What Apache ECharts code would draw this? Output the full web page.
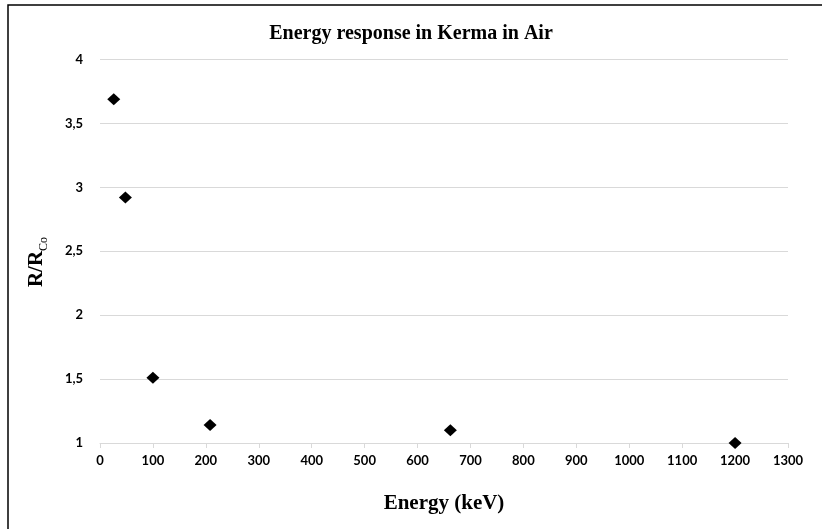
<!DOCTYPE html>
<html>
<head>
<meta charset="utf-8">
<script src="https://cdn.jsdelivr.net/npm/echarts@6/dist/echarts.min.js"></script>
<style>
html,body{margin:0;padding:0;background:#fff;}
#main{width:822px;height:529px;}
</style>
</head>
<body>
<div id="main"></div>
<script>
var energies = [26, 48, 100, 208, 662, 1200];
var responses = [3.69, 2.92, 1.51, 1.14, 1.10, 1.00];
var xTicks = [0, 100, 200, 300, 400, 500, 600, 700, 800, 900, 1000, 1100, 1200, 1300];
var yTicks = [1, 1.5, 2, 2.5, 3, 3.5, 4];

var points = energies.map(function (e, i) { return [e, responses[i]]; });

var chart = echarts.init(document.getElementById('main'), null, {renderer: 'canvas'});
var serif = '"Liberation Serif", "Times New Roman", serif';
var sans = 'Lato, "Open Sans", sans-serif';

chart.setOption({
  animation: false,
  backgroundColor: '#ffffff',
  title: {
    text: 'Energy response in Kerma in Air',
    left: 'center',
    top: 19,
    textStyle: {fontFamily: serif, fontWeight: 'bold', fontSize: 20, color: '#000'}
  },
  grid: {left: 100, right: 34, top: 59.5, bottom: 86, containLabel: false},
  xAxis: {
    type: 'value',
    min: xTicks[0],
    max: xTicks[xTicks.length - 1],
    interval: 100,
    name: 'Energy (keV)',
    nameLocation: 'middle',
    nameGap: 50,
    nameTextStyle: {fontFamily: serif, fontWeight: 'bold', fontSize: 21, color: '#000'},
    axisLine: {show: true, lineStyle: {color: '#d9d9d9', width: 1}},
    axisTick: {show: true, length: 5, lineStyle: {color: '#d9d9d9'}},
    axisLabel: {
      margin: 11, fontFamily: sans, fontWeight: 'bold', fontSize: 13, color: '#000',
      formatter: function (v) { return String(v); }
    },
    splitLine: {show: false}
  },
  yAxis: {
    type: 'value',
    min: yTicks[0],
    max: yTicks[yTicks.length - 1],
    interval: 0.5,
    axisLine: {show: false},
    axisTick: {show: false},
    axisLabel: {
      margin: 17, fontFamily: sans, fontWeight: 'bold', fontSize: 13, color: '#000',
      formatter: function (v) { return String(v).replace('.', ','); }
    },
    splitLine: {show: true, lineStyle: {color: '#d9d9d9', width: 1}}
  },
  series: [{
    type: 'scatter',
    data: points,
    symbol: 'diamond',
    symbolSize: [13, 12],
    itemStyle: {color: '#000', opacity: 1}
  }],
  graphic: [
    {
      type: 'rect',
      shape: {x: 8, y: 5, width: 900, height: 600},
      style: {fill: 'none', stroke: '#000', lineWidth: 1.5},
      silent: true
    },
    {
      type: 'text',
      x: 37, y: 262,
      rotation: Math.PI / 2,
      style: {
        text: '{m|R/R}{s|Co}',
        align: 'center',
        verticalAlign: 'middle',
        rich: {
          m: {fontFamily: serif, fontWeight: 'bold', fontSize: 21, color: '#000', lineHeight: 26},
          s: {fontFamily: serif, fontWeight: 'normal', fontSize: 12, color: '#000', verticalAlign: 'bottom', lineHeight: 26}
        }
      }
    }
  ]
});
</script>
</body>
</html>
